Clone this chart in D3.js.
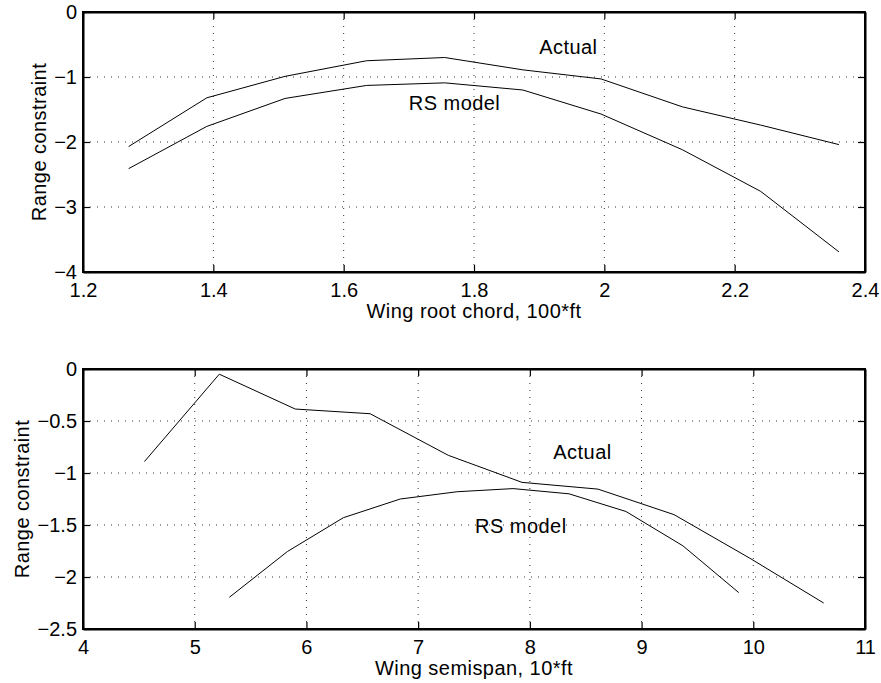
<!DOCTYPE html>
<html>
<head>
<meta charset="utf-8">
<script src="https://cdn.jsdelivr.net/npm/d3@7"></script>
<style>
  body { margin: 0; background: #fff; }
  svg { display: block; }
  text { font-family: "Liberation Sans", Arial, sans-serif; fill: #000; }
</style>
</head>
<body>
<svg id="chart" width="881" height="683"></svg>
<script>
// top panel: wing root chord
const chordX = [1.27, 1.39, 1.51, 1.635, 1.755, 1.875, 1.995, 2.12, 2.24, 2.36];
const chordActual = [-2.07, -1.32, -0.99, -0.75, -0.70, -0.89, -1.03, -1.46, -1.74, -2.04];
const chordModel = [-2.41, -1.76, -1.33, -1.13, -1.09, -1.20, -1.57, -2.12, -2.76, -3.69];
const chordXTicks = [1.2, 1.4, 1.6, 1.8, 2, 2.2, 2.4];
const chordYTicks = [0, -1, -2, -3, -4];

// bottom panel: wing semispan
const spanActualX = [4.55, 5.22, 5.90, 6.57, 7.27, 7.93, 8.61, 9.29, 9.97, 10.63];
const spanActual = [-0.89, -0.05, -0.385, -0.43, -0.83, -1.09, -1.155, -1.40, -1.82, -2.25];
const spanModelX = [5.31, 5.83, 6.33, 6.84, 7.35, 7.85, 8.35, 8.86, 9.37, 9.87];
const spanModel = [-2.195, -1.755, -1.43, -1.25, -1.18, -1.15, -1.20, -1.37, -1.70, -2.15];
const spanXTicks = [4, 5, 6, 7, 8, 9, 10, 11];
const spanYTicks = [0, -0.5, -1, -1.5, -2, -2.5];

const svg = d3.select('#chart');
const LEFT = 83;
const RIGHT = 865;
const FONT = '20px';
const SPACING = '0.45px';

function panel(cfg) {
  const g = svg.append('g');
  const x = d3.scaleLinear().domain(cfg.xDomain).range([LEFT, RIGHT]);
  const y = d3.scaleLinear().domain(cfg.yDomain).range([cfg.bottom, cfg.top]);

  // dotted grid
  g.append('g')
    .selectAll('line')
    .data(cfg.xTicks.slice(1, -1))
    .join('line')
    .attr('x1', (d) => x(d))
    .attr('x2', (d) => x(d))
    .attr('y1', cfg.top)
    .attr('y2', cfg.bottom)
    .attr('stroke', '#000')
    .attr('stroke-width', 0.8)
    .attr('stroke-dasharray', '1,6');
  g.append('g')
    .selectAll('line')
    .data(cfg.yTicks.slice(1, -1))
    .join('line')
    .attr('x1', LEFT)
    .attr('x2', RIGHT)
    .attr('y1', (d) => y(d))
    .attr('y2', (d) => y(d))
    .attr('stroke', '#000')
    .attr('stroke-width', 0.8)
    .attr('stroke-dasharray', '1,6');

  // inner ticks on all four sides
  const axes = [
    [d3.axisBottom(x).tickValues(cfg.xTicks).tickPadding(11), cfg.bottom, 'x', true],
    [d3.axisTop(x).tickValues(cfg.xTicks), cfg.top, 'x', false],
    [d3.axisLeft(y).tickValues(cfg.yTicks).tickPadding(6), LEFT, 'y', true],
    [d3.axisRight(y).tickValues(cfg.yTicks), RIGHT, 'y', false],
  ];
  axes.forEach(([ax, pos, dir, labels]) => {
    const a = g.append('g')
      .attr('transform', dir === 'x' ? `translate(0,${pos})` : `translate(${pos},0)`)
      .call(ax.tickSizeInner(-7).tickSizeOuter(0));
    a.select('.domain').attr('stroke', '#000').attr('stroke-width', 2);
    a.selectAll('.tick line').attr('stroke', '#000').attr('stroke-width', 1.2);
    a.selectAll('.tick text')
      .attr('font-size', FONT)
      .attr('font-family', '"Liberation Sans", Arial, sans-serif')
      .attr('fill', '#000')
      .text((d) => (labels ? d3.format('')(d) : ''));
  });

  // frame
  g.append('path')
    .attr('d', `M${LEFT},${cfg.top}H${RIGHT}V${cfg.bottom}H${LEFT}Z`)
    .attr('fill', 'none')
    .attr('stroke', '#000')
    .attr('stroke-width', 2);

  const line = d3.line().x((d) => x(d[0])).y((d) => y(d[1]));
  cfg.series.forEach((s) => {
    g.append('path')
      .datum(d3.zip(s.x, s.y))
      .attr('d', line)
      .attr('fill', 'none')
      .attr('stroke', '#000')
      .attr('stroke-width', 1);
  });

  cfg.notes.forEach((n) => {
    g.append('text')
      .attr('x', x(n.x))
      .attr('y', y(n.y))
      .style('font-size', FONT)
      .style('letter-spacing', SPACING)
      .text(n.text);
  });

  g.append('text')
    .attr('x', (LEFT + RIGHT) / 2)
    .attr('y', cfg.bottom + 46)
    .attr('text-anchor', 'middle')
    .style('font-size', FONT)
    .style('letter-spacing', SPACING)
    .text(cfg.xLabel);

  g.append('text')
    .attr('transform', `translate(${cfg.yLabelX},${(cfg.top + cfg.bottom) / 2}) rotate(-90)`)
    .attr('text-anchor', 'middle')
    .style('font-size', FONT)
    .style('letter-spacing', SPACING)
    .text('Range constraint');
}

panel({
  top: 12,
  bottom: 272,
  xDomain: [1.2, 2.4],
  yDomain: [-4, 0],
  xTicks: chordXTicks,
  yTicks: chordYTicks,
  series: [
    { x: chordX, y: chordActual },
    { x: chordX, y: chordModel },
  ],
  notes: [
    { x: 1.9, y: -0.64, text: 'Actual' },
    { x: 1.70, y: -1.5, text: 'RS model' },
  ],
  xLabel: 'Wing root chord, 100*ft',
  yLabelX: 46,
});

panel({
  top: 369,
  bottom: 629,
  xDomain: [4, 11],
  yDomain: [-2.5, 0],
  xTicks: spanXTicks,
  yTicks: spanYTicks,
  series: [
    { x: spanActualX, y: spanActual },
    { x: spanModelX, y: spanModel },
  ],
  notes: [
    { x: 8.21, y: -0.865, text: 'Actual' },
    { x: 7.51, y: -1.577, text: 'RS model' },
  ],
  xLabel: 'Wing semispan, 10*ft',
  yLabelX: 29,
});
</script>
</body>
</html>
